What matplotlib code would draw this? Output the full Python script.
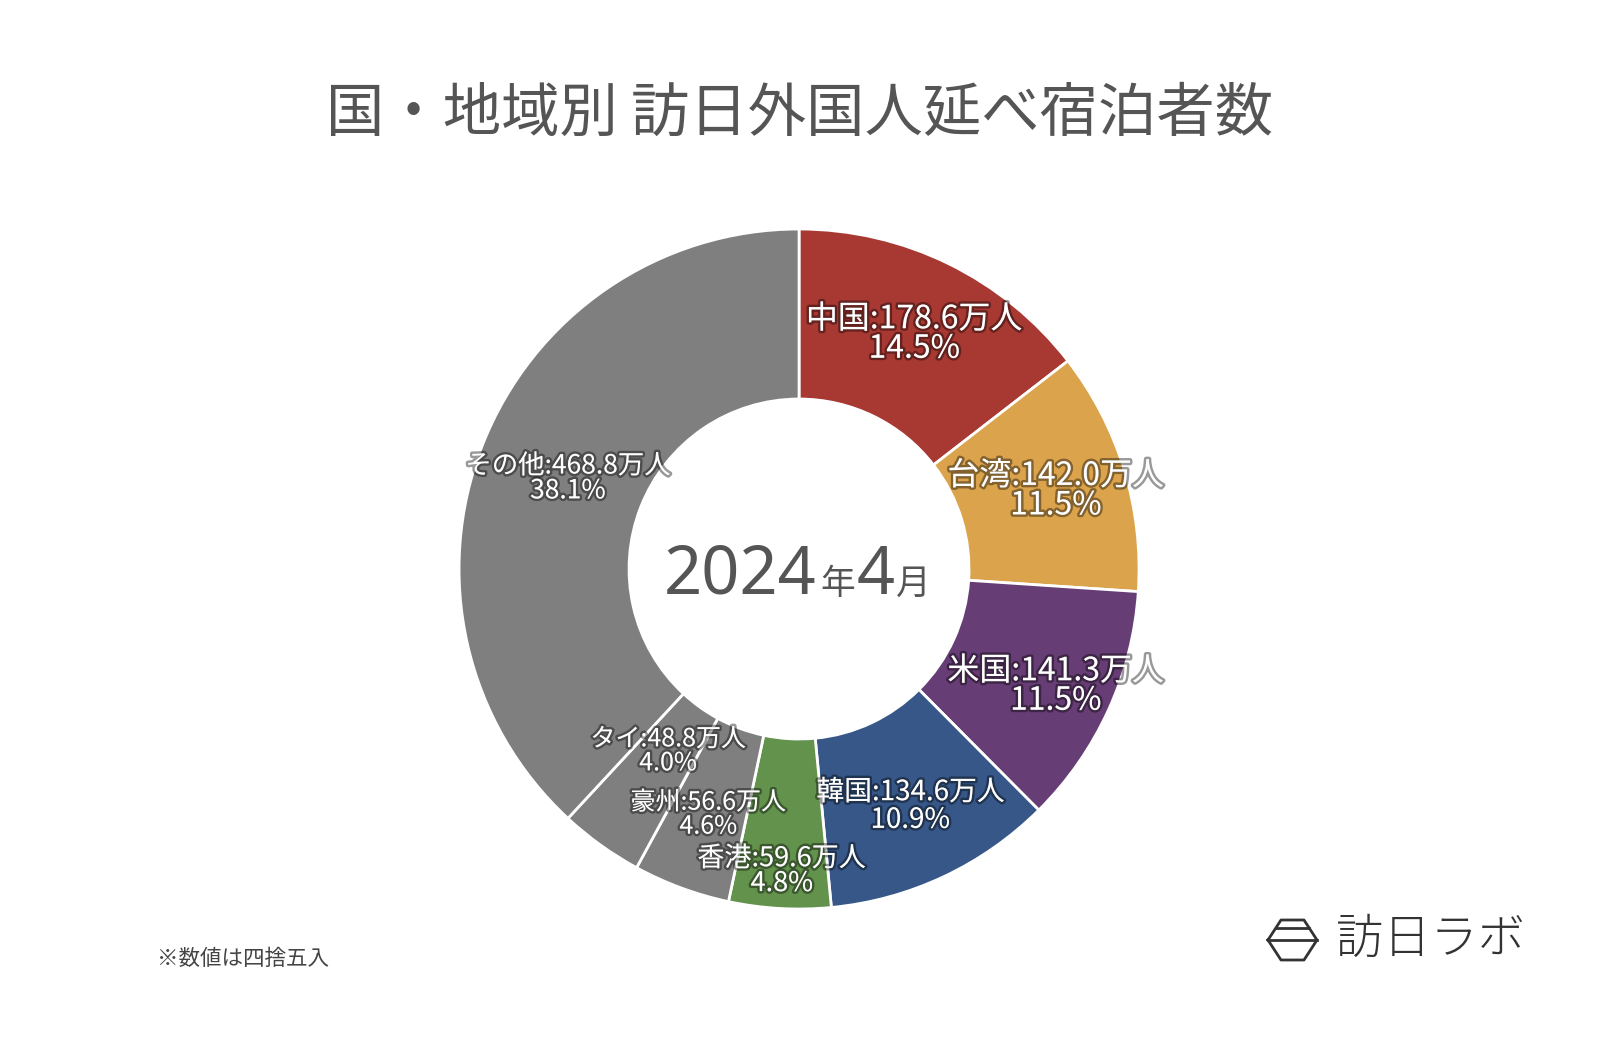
import matplotlib
matplotlib.use('Agg')
import numpy as np
import matplotlib.pyplot as plt
import matplotlib.patheffects as pe
from matplotlib.lines import Line2D

plt.rcParams['font.family'] = ['Noto Sans CJK JP', 'DejaVu Sans']

# データ（万人）
paises = ['中国', '台湾', '米国', '韓国', '香港', '豪州', 'タイ', 'その他']
valores = [178.6, 142.0, 141.3, 134.6, 59.6, 56.6, 48.8, 468.8]
porcentajes = [14.5, 11.5, 11.5, 10.9, 4.8, 4.6, 4.0, 38.1]

colores = ['#A83832', '#DBA44C', '#663D74', '#365787', '#62924C',
           '#7F7F7F', '#7F7F7F', '#7F7F7F']
radio_etiqueta = [0.77, 0.79, 0.83, 0.77, 0.89, 0.77, 0.66, 0.73]
tam_etiqueta = [23, 23, 23, 20, 19.5, 18, 18, 19]

fig = plt.figure(figsize=(16, 10.48), dpi=100)
fig.patch.set_facecolor('white')

# ejes cuadrados centrados en el donut
ax = fig.add_axes([0.2869, 0.1326, 0.425, 0.6489])
wedges, _ = ax.pie(valores, colors=colores, startangle=90, counterclock=False,
                   wedgeprops=dict(width=0.5, edgecolor='white', linewidth=2))
ax.set_xlim(-1, 1)
ax.set_ylim(-1, 1)
ax.set_aspect('equal')
ax.axis('off')

sombra = [pe.withStroke(linewidth=3.5, foreground=(0, 0, 0, 0.4))]
for w, p, v, pc, r, fs in zip(wedges, paises, valores, porcentajes, radio_etiqueta, tam_etiqueta):
    ang = np.deg2rad((w.theta1 + w.theta2) / 2)
    x, y = r * np.cos(ang), r * np.sin(ang)
    ax.text(x, y, f'{p}:{v:.1f}万人\n{pc:.1f}%', ha='center', va='center',
            color='white', fontsize=fs, linespacing=0.9, path_effects=sombra)

# texto central
gris = '#555555'
ax.text(0.05, -0.02, '2024', fontsize=48, color=gris, ha='right', va='center',
        fontfamily='Noto Sans')
ax.text(0.062, -0.045, '年', fontsize=25, color=gris, ha='left', va='center')
ax.text(0.168, -0.02, '4', fontsize=48, color=gris, ha='left', va='center',
        fontfamily='Noto Sans')
ax.text(0.285, -0.045, '月', fontsize=25, color=gris, ha='left', va='center')

fig.text(0.5, 0.891, '国・地域別 訪日外国人延べ宿泊者数', ha='center', va='center',
         fontsize=42, color=gris)
fig.text(0.098, 0.085, '※数値は四捨五入', ha='left', va='center',
         fontsize=15.5, color='#444444')

# logo
fig.text(0.835, 0.104, '訪日ラボ', ha='left', va='center', fontsize=34,
         color='#333333', fontweight='light')
W, H = 1600, 1048
def px(x, y):
    return x / W, 1 - y / H
hexpts = [(1268, 940), (1281, 920), (1304, 920), (1317, 940), (1304, 960), (1281, 960), (1268, 940)]
xs, ys = zip(*[px(a, b) for a, b in hexpts])
fig.add_artist(Line2D(xs, ys, color='#333333', lw=2))
for (a, b, yy) in [(1276, 1309, 928), (1268, 1317, 940)]:
    x1, y1 = px(a, yy)
    x2, y2 = px(b, yy)
    fig.add_artist(Line2D([x1, x2], [y1, y2], color='#333333', lw=2))

fig.savefig('out.png', dpi=100, facecolor='white')
